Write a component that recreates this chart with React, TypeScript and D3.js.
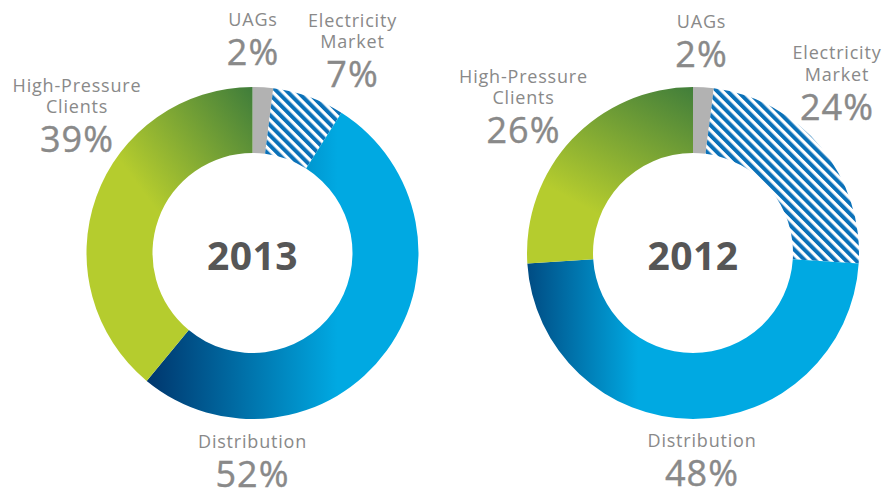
import React from "react";
import * as d3 from "d3";

const categories = ["UAGs", "Electricity Market", "Distribution", "High-Pressure Clients"];
const labelLines = [["UAGs"], ["Electricity", "Market"], ["Distribution"], ["High-Pressure", "Clients"]];
const years = ["2013", "2012"];
const values2013 = [2, 7, 52, 39];
const values2012 = [2, 24, 48, 26];
const seriesValues = [values2013, values2012];

// Layout / style configuration (not data)
const W = 895;
const H = 490;
const centers = [
  { cx: 252.5, cy: 253 },
  { cx: 693, cy: 253 },
];
const outerR = 166;
const innerR = 100;

// label anchors relative to chart center: baseline of first line
const labelPos = [
  [
    { dx: 0.5, dy: -227 },
    { dx: 100, dy: -226.5 },
    { dx: 0, dy: 195 },
    { dx: -175.5, dy: -161.5 },
  ],
  [
    { dx: 8.5, dy: -225 },
    { dx: 144, dy: -194 },
    { dx: 9, dy: 194 },
    { dx: -169.5, dy: -170.5 },
  ],
];

const distGrad = [
  { x1: -110, y1: 0, x2: 85, y2: 0 },
  { x1: -195, y1: 0, x2: -55, y2: 0 },
];
const hpGrad = [
  { x1: -120, y1: -75, x2: 5, y2: -168 },
  { x1: -70, y1: -25, x2: 10, y2: -170 },
];

const GRAY = "#b2b2b2";
const STRIPE = "#0b71b8";
const LIGHT_BLUE = "#00a9e2";
const NAVY = "#00336a";
const LIME = "#b5cc2e";
const DARK_GREEN = "#3b7a3b";
const LABEL = "#898989";
const YEAR = "#565656";
const FONT = "'Open Sans', 'DejaVu Sans', sans-serif";

function Donut({ idx }: { idx: number }) {
  const values = seriesValues[idx];
  const { cx, cy } = centers[idx];
  const pie = d3
    .pie<number>()
    .sort(null)
    .value((d) => d)
    .startAngle(0)
    .endAngle(2 * Math.PI);
  const arcs = pie(values);
  const arcGen = d3.arc<d3.PieArcDatum<number>>().innerRadius(innerR).outerRadius(outerR);
  const dg = distGrad[idx];
  const hg = hpGrad[idx];
  const fills = [GRAY, `url(#stripes)`, `url(#dist${idx})`, `url(#hp${idx})`];
  return (
    <g transform={`translate(${cx},${cy})`}>
      <defs>
        <linearGradient id={`dist${idx}`} gradientUnits="userSpaceOnUse" x1={dg.x1} y1={dg.y1} x2={dg.x2} y2={dg.y2}>
          <stop offset="0" stopColor={NAVY} />
          <stop offset="1" stopColor={LIGHT_BLUE} />
        </linearGradient>
        <linearGradient id={`hp${idx}`} gradientUnits="userSpaceOnUse" x1={hg.x1} y1={hg.y1} x2={hg.x2} y2={hg.y2}>
          <stop offset="0" stopColor={LIME} />
          <stop offset="1" stopColor={DARK_GREEN} />
        </linearGradient>
      </defs>
      {arcs.map((a, i) => (
        <path key={categories[i]} d={arcGen(a) || ""} fill={fills[i]} />
      ))}
      <text
        x={0}
        y={17}
        textAnchor="middle"
        fontFamily={FONT}
        fontWeight={700}
        fontSize={39}
        letterSpacing={0.5}
        fill={YEAR}
      >
        {years[idx]}
      </text>
      {categories.map((c, i) => {
        const p = labelPos[idx][i];
        const lines = labelLines[i];
        return (
          <g key={c}>
            {lines.map((ln, j) => (
              <text
                key={ln}
                x={p.dx}
                y={p.dy + j * 21.5}
                textAnchor="middle"
                fontFamily={FONT}
                fontSize={18}
                letterSpacing={0.8}
                fill={LABEL}
              >
                {ln}
              </text>
            ))}
            <text
              x={p.dx}
              y={p.dy + (lines.length - 1) * 21.5 + 39}
              textAnchor="middle"
              fontFamily={FONT}
              fontSize={36}
              letterSpacing={1}
              fill={LABEL}
              stroke={LABEL}
              strokeWidth={0.4}
            >
              {values[i]}%
            </text>
          </g>
        );
      })}
    </g>
  );
}

export default function App() {
  return (
    <svg
      width={W}
      height={H}
      viewBox={`0 0 ${W} ${H}`}
      style={{ position: "absolute", left: 0, top: 0, background: "#fff" }}
    >
      <defs>
        <pattern
          id="stripes"
          patternUnits="userSpaceOnUse"
          width={7.2}
          height={7.2}
          patternTransform="rotate(-45)"
        >
          <rect x={0} y={0} width={7.2} height={7.2} fill="#fff" />
          <rect x={0} y={0} width={4} height={7.2} fill={STRIPE} />
        </pattern>
      </defs>
      <rect x={0} y={0} width={W} height={H} fill="#fff" />
      {years.map((y, i) => (
        <Donut key={y} idx={i} />
      ))}
    </svg>
  );
}
